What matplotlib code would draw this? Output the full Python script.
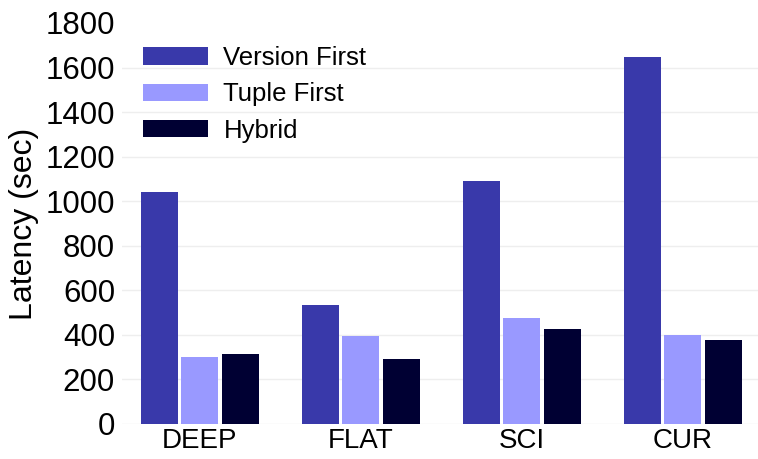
import numpy as np
import matplotlib.pyplot as plt

plt.rcParams['font.family'] = ['Liberation Sans', 'DejaVu Sans']

# Data
categories = ['DEEP', 'FLAT', 'SCI', 'CUR']
version_first = [1040, 536, 1089, 1648]
tuple_first = [300, 397, 475, 400]
hybrid = [313, 291, 427, 378]

series = ['Version First', 'Tuple First', 'Hybrid']
colors = ['#3939aa', '#9999ff', '#000033']

fig = plt.figure(figsize=(7.58, 4.59), dpi=100)
ax = fig.add_axes([0.161, 0.0763, 0.839, 0.8736])

x = np.arange(len(categories))
width = 0.23
step = 0.252
for i, (vals, name, c) in enumerate(zip([version_first, tuple_first, hybrid], series, colors)):
    ax.bar(x + (i - 1) * step, vals, width, color=c, label=name, zorder=3)

ax.set_ylim(0, 1800)
ax.set_xlim(-0.484, 3.466)
ax.set_yticks(range(0, 1801, 200))
ax.set_xticks(x)
ax.set_xticklabels(categories)
ax.tick_params(axis='y', length=0, labelsize=22.5, pad=5)
ax.tick_params(axis='x', length=0, labelsize=20, pad=3)
ax.set_ylabel('Latency (sec)', fontsize=23, labelpad=5)
ax.yaxis.grid(True, color='#eeeeee', linewidth=1, zorder=0)
ax.yaxis.get_gridlines()[-1].set_visible(False)
for s in ax.spines.values():
    s.set_visible(False)

ax.legend(loc='upper left', bbox_to_anchor=(143 / 758, 1 - 46 / 459),
          bbox_transform=fig.transFigure, frameon=False, fontsize=18.5,
          borderpad=0, borderaxespad=0, handlelength=2.53, handleheight=0.68,
          handletextpad=0.6, labelspacing=0.48)

fig.savefig('out.png', dpi=100)
